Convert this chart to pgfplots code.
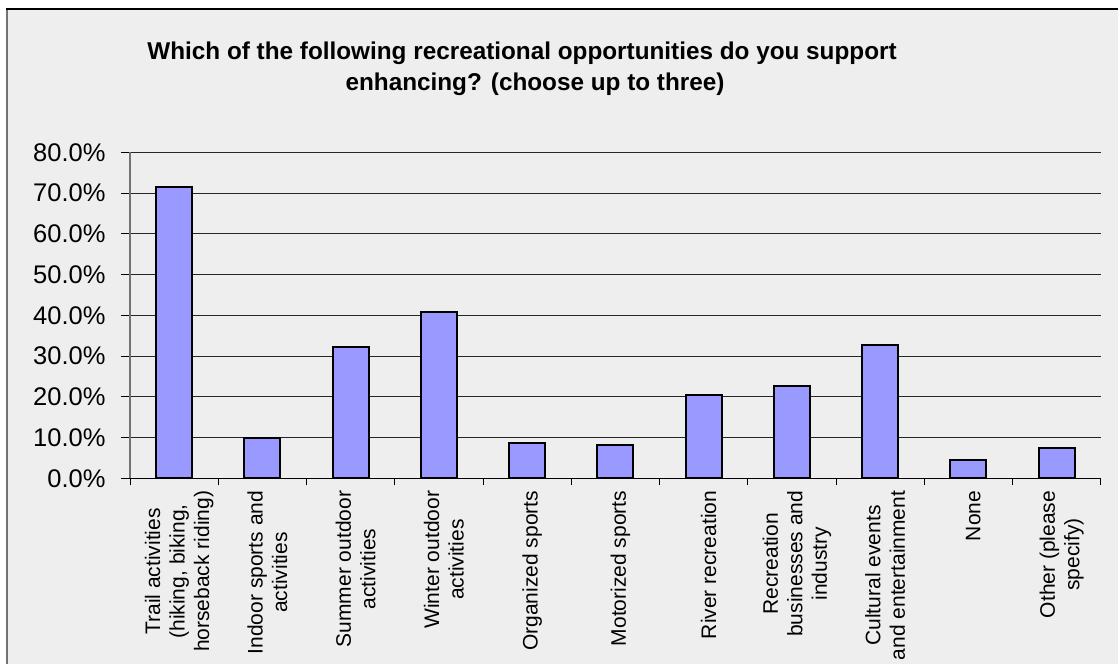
\documentclass[border=0pt]{standalone}
\usepackage{pgfplots}
\pgfplotsset{compat=1.18}
\usepackage{fontspec}
\setmainfont{Liberation Sans}
\definecolor{barfill}{RGB}{153,153,255}
\definecolor{bg}{RGB}{238,238,238}
\begin{document}
\begin{tikzpicture}[x=1pt,y=1pt]
\useasboundingbox (0,0) rectangle (1118,664);
\fill[white] (0,0) rectangle (1118,664);
\fill[bg] (7,0) rectangle (1118,655);
\draw[black!55, line width=2pt] (7,0) -- (7,655);
\draw[black, line width=1.5pt] (6,655) -- (1118,655);
\node[anchor=base, font=\bfseries\fontsize{24.3}{29}\selectfont] at (522,604) {Which of the following recreational opportunities do you support};
\node[anchor=base, font=\bfseries\fontsize{24.3}{29}\selectfont] at (535,573.3) {enhancing? (choose up to three)};
\begin{axis}[
  at={(130pt,185.7pt)}, anchor=south west,
  scale only axis, width=970.7pt, height=326pt,
  xmin=-0.5, xmax=10.5, ymin=0, ymax=80,
  axis x line*=bottom, axis y line*=left,
  x axis line style={black, line width=1pt, -},
  y axis line style={black!55, line width=1.5pt, -},
  ytick={0,10,...,80},
  yticklabel={\pgfmathprintnumber[fixed,fixed zerofill,precision=1,assume math mode=true]{\tick}\%},
  yticklabel style={font=\fontsize{25.5}{30}\selectfont, xshift=-12pt},
  ymajorgrids, grid style={black!85, line width=0.8pt},
  tick align=outside, major tick length=9pt,
  y tick style={black, line width=0.8pt},
  xtick={0,...,10},
  major x tick style={draw=none},
  minor xtick={-0.5,0.5,...,10.5},
  minor x tick style={black, line width=0.8pt},
  minor tick length=7pt,
  xticklabels={{Trail activities\\(hiking, biking,\\horseback riding)},{Indoor sports and\\activities},{Summer outdoor\\activities},{Winter outdoor\\activities},{Organized sports},{Motorized sports},{River recreation},{Recreation\\businesses and\\industry},{Cultural events\\and entertainment},{None},{Other (please\\specify)}},
  xticklabel style={rotate=90, anchor=east, align=center, font=\fontsize{21}{24.5}\selectfont, yshift=-5pt},
  ybar, bar width=36pt,
  clip=false,
]
\addplot[ybar, draw=black, line width=2pt, fill=barfill] coordinates {
(0,71.6) (1,10.0) (2,32.1) (3,40.7) (4,8.6) (5,8.1) (6,20.4) (7,22.7) (8,32.7) (9,4.4) (10,7.4)
};
\end{axis}
\end{tikzpicture}
\end{document}
